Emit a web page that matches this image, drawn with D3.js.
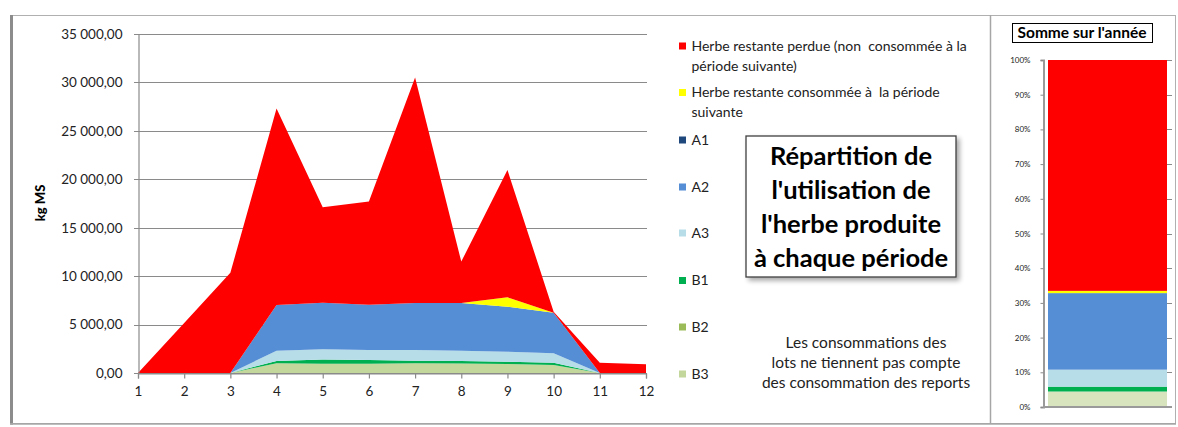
<!DOCTYPE html>
<html><head><meta charset="utf-8">
<script src="https://cdn.jsdelivr.net/npm/d3@7"></script>
<style>
html,body{margin:0;padding:0;background:#fff;}
svg{display:block;font-family:Lato, "Open Sans", sans-serif;}
</style></head>
<body>
<svg id="c" width="1178" height="427"></svg>
<script>
// ---- data ----
const periods = [1,2,3,4,5,6,7,8,9,10,11,12];
const seriesKeys = ["B3","B2","B1","A3","A2","A1","consommee","perdue"];
const B3 = [0,0,0,1000,950,950,1000,980,930,830,0,0];
const B2 = [0,0,0,0,0,0,0,0,0,0,0,0];
const B1 = [0,0,0,240,450,400,270,260,240,230,0,0];
const A3 = [0,0,0,1060,1050,1020,1100,1060,1030,970,0,0];
const A2 = [0,0,0,4720,4800,4680,4860,4930,4650,4200,0,0];
const A1 = [0,0,0,0,0,0,0,0,0,0,0,0];
const consommee = [0,0,0,0,0,0,0,0,960,0,0,0];
const perdue = [0,5175,10350,20280,9850,10650,23270,4270,13150,100,1060,900];
const yTicks = [0,5000,10000,15000,20000,25000,30000,35000];
const pctTicks = [0,0.1,0.2,0.3,0.4,0.5,0.6,0.7,0.8,0.9,1];
const legendLabels = [
  ["Herbe restante perdue (non  consommée à la","période suivante)"],
  ["Herbe restante consommée à  la période","suivante"],
  ["A1"],["A2"],["A3"],["B1"],["B2"],["B3"]
];
const titleLines = ["Répartition de","l'utilisation de","l'herbe produite","à chaque période"];
const noteLines = ["Les consommations des","lots ne tiennent pas compte","des consommation des reports"];

const colors = {B3:"#c3d69b",B2:"#9bbb59",B1:"#00b050",A3:"#b7dde8",A2:"#558ed5",A1:"#1f497d",consommee:"#ffff00",perdue:"#ff0000"};
const sumColors = {B3:"#d7e4bd",B2:"#9bbb59",B1:"#00b050",A3:"#b7dde8",A2:"#558ed5",A1:"#1f497d",consommee:"#ffff00",perdue:"#ff0000"};

const dataBy = {B3,B2,B1,A3,A2,A1,consommee,perdue};
const rows = periods.map((p,i)=>{const o={period:p}; seriesKeys.forEach(k=>o[k]=dataBy[k][i]); return o;});

const svg = d3.select("#c");

// ---- frame ----
svg.append("rect").attr("x",11).attr("y",15.5).attr("width",1164.5).attr("height",408.5)
  .attr("fill","none").attr("stroke","#b0b0b0").attr("stroke-width",1);
svg.append("line").attr("x1",11.5).attr("x2",11.5).attr("y1",15).attr("y2",424.5).attr("stroke","#8c8c8c").attr("stroke-width",3);
svg.append("line").attr("x1",10).attr("x2",1176).attr("y1",423.8).attr("y2",423.8).attr("stroke","#a6a6a6").attr("stroke-width",1.6);
svg.append("line").attr("x1",990.5).attr("x2",990.5).attr("y1",15).attr("y2",424).attr("stroke","#a6a6a6").attr("stroke-width",1.5);

// ---- main chart ----
const x = d3.scalePoint().domain(periods).range([138,646]);
const y = d3.scaleLinear().domain([0,35000]).range([373,34]);
const loc = d3.formatLocale({decimal:",",thousands:" ",grouping:[3],currency:["","€"]});
const fmt = loc.format(",.2f");

const g = svg.append("g");
g.selectAll("line.grid").data(yTicks).join("line")
  .attr("x1",134).attr("x2",647).attr("y1",d=>Math.round(y(d))+0.5).attr("y2",d=>Math.round(y(d))+0.5)
  .attr("stroke","#8a8a8a").attr("stroke-width",1.2);

const stack = d3.stack().keys(seriesKeys);
const layers = stack(rows);
const area = d3.area().x(d=>x(d.data.period)).y0(d=>y(d[0])).y1(d=>y(d[1]));
g.selectAll("path.layer").data(layers).join("path")
  .attr("d",area).attr("fill",d=>colors[d.key]);

const yAxis = d3.axisLeft(y).tickValues(yTicks).tickFormat(fmt).tickSize(0).tickPadding(16);
const ya = g.append("g").attr("transform","translate(138.5,0)").call(yAxis);
ya.select(".domain").attr("stroke","#8a8a8a").attr("stroke-width",1.2);
ya.selectAll("text").attr("font-size",13.5).attr("fill","#222").attr("font-family","Lato, sans-serif");

const xAxis = d3.axisBottom(x).tickSize(5).tickPadding(8);
const xa = g.append("g").attr("transform","translate(0,373.5)").call(xAxis);
xa.select(".domain").attr("stroke","#8a8a8a").attr("stroke-width",1.2);
xa.selectAll(".tick line").attr("stroke","#8a8a8a").attr("stroke-width",1.2);
xa.selectAll("text").attr("font-size",13.5).attr("fill","#222").attr("font-family","Lato, sans-serif");

svg.append("text").attr("transform","translate(45,203) rotate(-90)").attr("text-anchor","middle")
  .attr("font-size",13).attr("font-weight","900").attr("fill","#000").text("kg MS");

// ---- legend ----
const legY = [46,92.5,140,187,233,280.5,327,374];
const legKeys = ["perdue","consommee","A1","A2","A3","B1","B2","B3"];
const lg = svg.append("g");
legKeys.forEach((k,i)=>{
  lg.append("rect").attr("x",679).attr("y",legY[i]-3.5).attr("width",7).attr("height",7).attr("fill",colors[k]);
  legendLabels[i].forEach((t,j)=>{
    lg.append("text").attr("x",691.5).attr("y",legY[i]+j*20).attr("dy","0.35em")
      .attr("font-size",14).attr("fill","#222").attr("xml:space","preserve").text(t);
  });
});

// ---- title box ----
const defs = svg.append("defs");
const f = defs.append("filter").attr("id","sh").attr("x","-10%").attr("y","-10%").attr("width","130%").attr("height","130%");
f.append("feGaussianBlur").attr("in","SourceAlpha").attr("stdDeviation",2.5);
f.append("feOffset").attr("dx",3).attr("dy",3).attr("result","b");
f.append("feComponentTransfer").append("feFuncA").attr("type","linear").attr("slope",0.35);
const fm = f.append("feMerge"); fm.append("feMergeNode"); fm.append("feMergeNode").attr("in","SourceGraphic");
svg.append("rect").attr("x",746).attr("y",136).attr("width",210).attr("height",141)
  .attr("fill","#fff").attr("stroke","#404040").attr("stroke-width",1.3).attr("filter","url(#sh)");
titleLines.forEach((t,i)=>{
  svg.append("text").attr("x",851).attr("y",156+i*34).attr("dy","0.35em").attr("text-anchor","middle")
    .attr("font-size",25.5).attr("font-weight","bold").attr("fill","#000").text(t);
});

// ---- note ----
noteLines.forEach((t,i)=>{
  svg.append("text").attr("x",866).attr("y",342.5+i*20).attr("dy","0.35em").attr("text-anchor","middle")
    .attr("font-size",15.5).attr("fill","#222").text(t);
});

// ---- summary bar ----
const sums = {}; seriesKeys.forEach(k=>sums[k]=d3.sum(dataBy[k]));
const total = d3.sum(seriesKeys,k=>sums[k]);
const sumRow = [{}]; seriesKeys.forEach(k=>sumRow[0][k]=sums[k]/total);
const sLayers = d3.stack().keys(seriesKeys)(sumRow);
const ys = d3.scaleLinear().domain([0,1]).range([407,60]);
const sg = svg.append("g");
sg.selectAll("line.rt").data(pctTicks).join("line")
  .attr("x1",1167).attr("x2",1172).attr("y1",d=>Math.round(ys(d))+0.5).attr("y2",d=>Math.round(ys(d))+0.5)
  .attr("stroke","#8a8a8a").attr("stroke-width",1);
sg.selectAll("rect.seg").data(sLayers).join("rect")
  .attr("x",1048).attr("width",119)
  .attr("y",d=>ys(d[0][1])).attr("height",d=>ys(d[0][0])-ys(d[0][1]))
  .attr("fill",d=>sumColors[d.key]);
const sAxis = d3.axisLeft(ys).tickValues(pctTicks).tickFormat(d3.format(".0%")).tickSize(3).tickPadding(10);
const sa = sg.append("g").attr("transform","translate(1043.5,0)").call(sAxis);
sa.select(".domain").attr("stroke","#9a9a9a").attr("stroke-width",2);
sa.selectAll(".tick line").attr("stroke","#8a8a8a");
sa.selectAll("text").attr("font-size",8).attr("fill","#222").attr("font-family","Lato, sans-serif");
sg.append("line").attr("x1",1043).attr("x2",1172).attr("y1",407).attr("y2",407).attr("stroke","#9a9a9a").attr("stroke-width",2);

svg.append("rect").attr("x",1012.5).attr("y",23.5).attr("width",140).attr("height",19)
  .attr("fill","#fff").attr("stroke","#000").attr("stroke-width",1);
svg.append("text").attr("x",1082).attr("y",33).attr("dy","0.35em").attr("text-anchor","middle")
  .attr("font-size",15.5).attr("font-weight","bold").attr("fill","#000").text("Somme sur l'année");
</script>
</body></html>
